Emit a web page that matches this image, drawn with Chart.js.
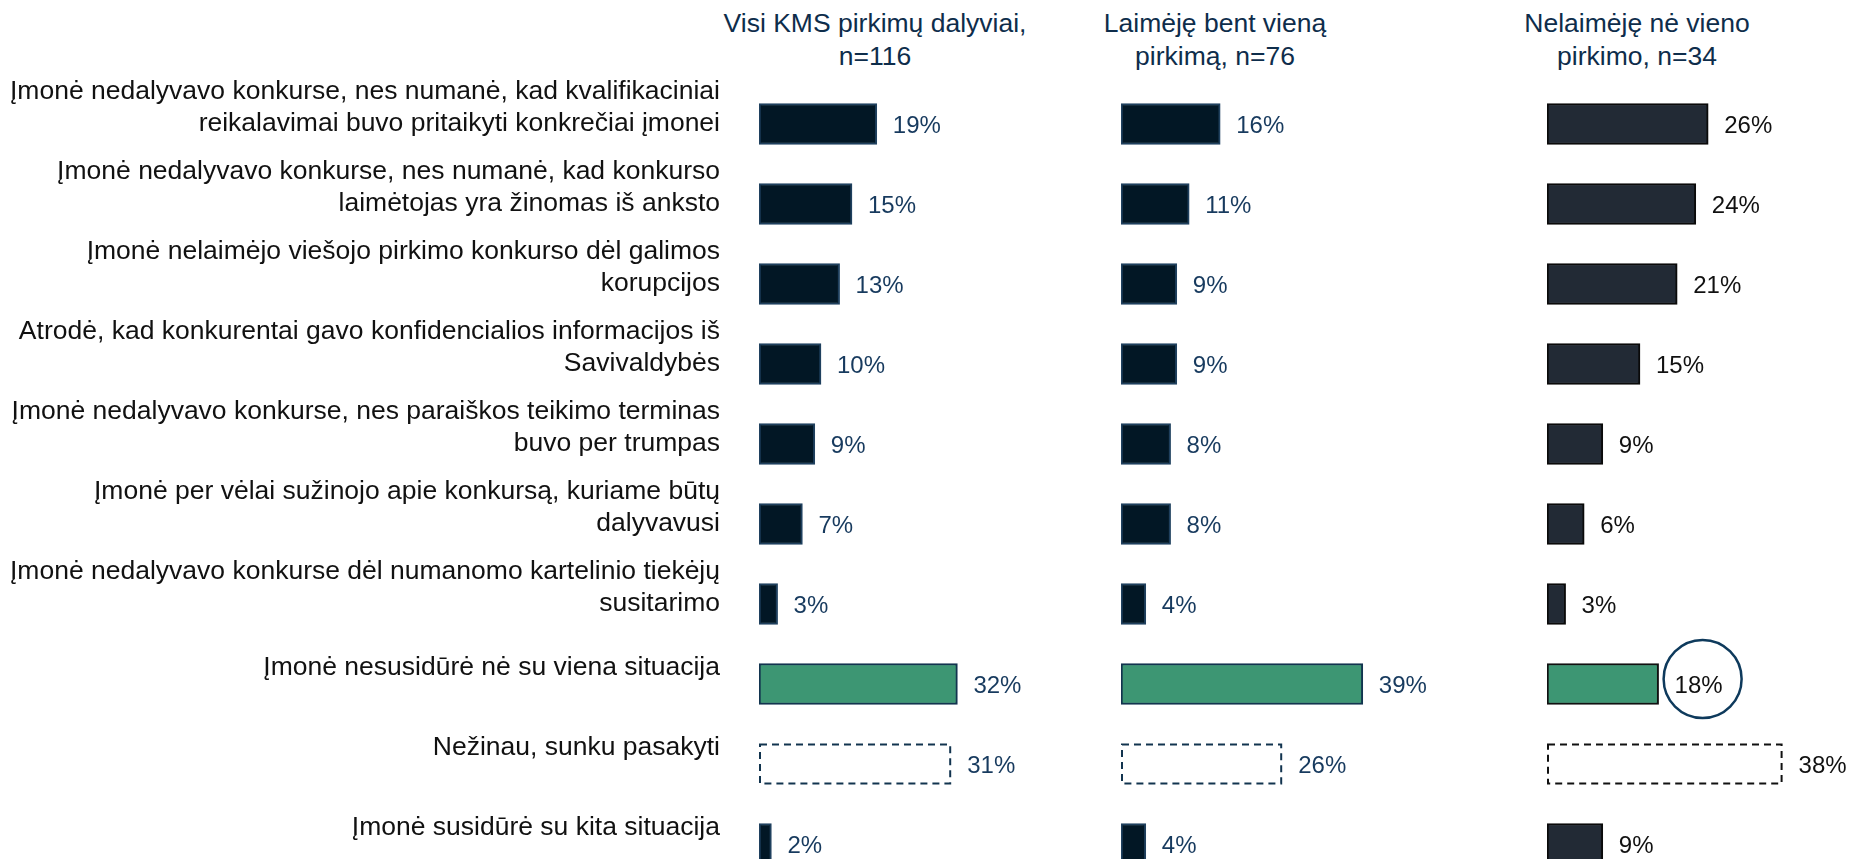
<!DOCTYPE html>
<html lang="lt">
<head>
<meta charset="UTF-8" />
<title>Situacijos, su kuriomis susidūrė įmonės</title>
<script src="https://cdn.jsdelivr.net/npm/chart.js"></script>
<style>
  html, body { margin: 0; padding: 0; background: #fff; overflow: hidden; width: 1850px; height: 859px; }
  body { position: relative; font-family: "Liberation Sans", Arial, sans-serif; }
  .head { position: absolute; top: 7px; width: 420px; text-align: center; color: #0e2d4b; font-size: 26.5px; line-height: 33px; }
  .box { position: absolute; top: 0; height: 900px; }
</style>
</head>
<body>
  <!-- stulpelių antraštės -->
  <div class="head" style="left:665px">Visi KMS pirkimų dalyviai,<br>n=116</div>
  <div class="head" style="left:1005px">Laimėję bent vieną<br>pirkimą, n=76</div>
  <div class="head" style="left:1427px">Nelaimėję nė vieno<br>pirkimo, n=34</div>

  <div class="box" style="left:0;width:1069px"><canvas id="chartAll"></canvas></div>
  <div class="box" style="left:1121px;width:310px"><canvas id="chartWon"></canvas></div>
  <div class="box" style="left:1547px;width:303px"><canvas id="chartLost"></canvas></div>

<script>
// kategorijos (eilutės)
const categories = [
  ["Įmonė nedalyvavo konkurse, nes numanė, kad kvalifikaciniai", "reikalavimai buvo pritaikyti konkrečiai įmonei"],
  ["Įmonė nedalyvavo konkurse, nes numanė, kad konkurso", "laimėtojas yra žinomas iš anksto"],
  ["Įmonė nelaimėjo viešojo pirkimo konkurso dėl galimos", "korupcijos"],
  ["Atrodė, kad konkurentai gavo konfidencialios informacijos iš", "Savivaldybės"],
  ["Įmonė nedalyvavo konkurse, nes paraiškos teikimo terminas", "buvo per trumpas"],
  ["Įmonė per vėlai sužinojo apie konkursą, kuriame būtų", "dalyvavusi"],
  ["Įmonė nedalyvavo konkurse dėl numanomo kartelinio tiekėjų", "susitarimo"],
  "Įmonė nesusidūrė nė su viena situacija",
  "Nežinau, sunku pasakyti",
  "Įmonė susidūrė su kita situacija"
];

// reikšmės, %
const allParticipants = [19, 15, 13, 10, 9, 7, 3, 32, 31, 2];
const winners = [16, 11, 9, 9, 8, 8, 4, 39, 26, 4];
const losers = [26, 24, 21, 15, 9, 6, 3, 18, 38, 9];

const GREEN_ROW = 7;     // "nesusidūrė" eilutė
const DASHED_ROW = 8;    // "Nežinau" eilutė

const FONT = "Liberation Sans, Arial, sans-serif";

function barStyles(values, dark, border, accent) {
  return {
    backgroundColor: values.map((v, i) => i === GREEN_ROW ? "#3d9673" : i === DASHED_ROW ? "#ffffff" : dark),
    borderColor: values.map((v, i) => i === GREEN_ROW || i === DASHED_ROW ? accent : border)
  };
}

// procentų etiketės prie stulpelių (+ apskritimas)
const valueLabels = {
  id: "valueLabels",
  afterDatasetsDraw(chart, args, opts) {
    const ctx = chart.ctx;
    const meta = chart.getDatasetMeta(0);
    const data = chart.data.datasets[0].data;
    ctx.save();
    ctx.font = "24px " + FONT;
    ctx.fillStyle = opts.color;
    ctx.textBaseline = "middle";
    ctx.textAlign = "left";
    meta.data.forEach((bar, i) => {
      const txt = data[i] + "%";
      const x = bar.x + 16;
      const y = bar.y + 2;
      ctx.fillText(txt, x, y);
      if (opts.circle === i) {
        const w = ctx.measureText(txt).width;
        ctx.beginPath();
        ctx.strokeStyle = "#0e3a5c";
        ctx.lineWidth = 2.5;
        ctx.arc(x + w / 2 + 4, y - 7, 39, 0, Math.PI * 2);
        ctx.stroke();
      }
    });
    ctx.restore();
  }
};

// punktyrinis rėmelis "Nežinau" stulpeliui
const dashedBar = {
  id: "dashedBar",
  beforeDatasetsDraw(chart) {
    chart.getDatasetMeta(0).data[DASHED_ROW].options.borderWidth = 0;
  },
  afterDatasetsDraw(chart, args, opts) {
    const bar = chart.getDatasetMeta(0).data[DASHED_ROW];
    const p = bar.getProps(["x", "y", "base", "height"], true);
    const ctx = chart.ctx;
    ctx.save();
    ctx.strokeStyle = opts.color;
    ctx.lineWidth = 2;
    ctx.setLineDash([7, 5]);
    ctx.strokeRect(p.base + 1, p.y - p.height / 2 + 1, p.x - p.base - 2, p.height - 2);
    ctx.restore();
  }
};

function makeChart(id, values, opt) {
  const style = barStyles(values, opt.dark, opt.border, opt.accent);
  return new Chart(document.getElementById(id), {
    type: "bar",
    data: {
      labels: categories,
      datasets: [{
        data: values,
        backgroundColor: style.backgroundColor,
        borderColor: style.borderColor,
        borderWidth: 2,
        borderSkipped: false,
        barThickness: 41
      }]
    },
    options: {
      indexAxis: "y",
      responsive: true,
      maintainAspectRatio: false,
      animation: false,
      layout: { padding: { top: 84, bottom: 16, left: 0, right: 0 } },
      plugins: {
        legend: { display: false },
        tooltip: { enabled: false },
        valueLabels: { color: opt.labelColor, circle: opt.circle },
        dashedBar: { color: opt.accent }
      },
      scales: {
        x: { display: false, min: 0, max: opt.max },
        y: {
          display: opt.showLabels,
          grid: { display: false, drawTicks: false },
          border: { display: false },
          afterFit: (s) => {
            if (opt.showLabels) s.width = 759;
            s.paddingTop = 0;
            s.paddingBottom = 0;
          },
          ticks: {
            color: "#111111",
            padding: 39,
            labelOffset: -16,
            font: { family: FONT, size: 26.5, lineHeight: 1.2 }
          }
        }
      }
    },
    plugins: [valueLabels, dashedBar]
  });
}

makeChart("chartAll", allParticipants, {
  max: 50, showLabels: true, dark: "#021725", border: "#1f405e",
  accent: "#12344f", labelColor: "#173a5e", circle: -1
});
makeChart("chartWon", winners, {
  max: 50, showLabels: false, dark: "#021725", border: "#1f405e",
  accent: "#12344f", labelColor: "#173a5e", circle: -1
});
makeChart("chartLost", losers, {
  max: 303 / 6.2, showLabels: false, dark: "#222a35", border: "#0a0a0a",
  accent: "#111111", labelColor: "#111111", circle: GREEN_ROW
});
</script>
</body>
</html>
